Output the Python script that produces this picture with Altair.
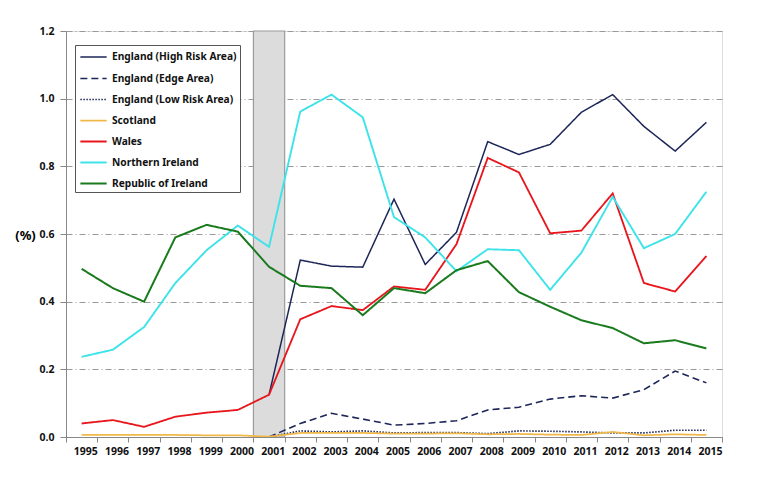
import altair as alt
import pandas as pd

years = [str(y) for y in range(1995, 2016)]

series_names = [
    "England (High Risk Area)",
    "England (Edge Area)",
    "England (Low Risk Area)",
    "Scotland",
    "Wales",
    "Northern Ireland",
    "Republic of Ireland",
]

N = None
england_high = [N, N, N, N, N, N, 0.125, 0.523, 0.505, 0.502, 0.703, 0.510, 0.605, 0.873, 0.835, 0.865, 0.960, 1.012, 0.918, 0.845, 0.930]
england_edge = [N, N, N, N, N, N, 0.0, 0.040, 0.070, 0.053, 0.035, 0.040, 0.048, 0.080, 0.088, 0.112, 0.122, 0.115, 0.140, 0.195, 0.160]
england_low = [N, N, N, N, N, N, 0.0, 0.018, 0.015, 0.018, 0.012, 0.013, 0.013, 0.010, 0.018, 0.017, 0.015, 0.012, 0.012, 0.020, 0.020]
scotland = [0.006, 0.006, 0.006, 0.006, 0.005, 0.005, 0.001, 0.012, 0.012, 0.012, 0.010, 0.010, 0.011, 0.008, 0.009, 0.007, 0.006, 0.015, 0.005, 0.008, 0.006]
wales = [0.040, 0.050, 0.030, 0.060, 0.072, 0.080, 0.125, 0.348, 0.387, 0.375, 0.445, 0.435, 0.570, 0.825, 0.782, 0.602, 0.610, 0.720, 0.455, 0.430, 0.535]
northern_ireland = [0.237, 0.258, 0.325, 0.455, 0.552, 0.625, 0.562, 0.962, 1.012, 0.945, 0.650, 0.590, 0.490, 0.555, 0.552, 0.435, 0.545, 0.710, 0.558, 0.600, 0.725]
republic_ireland = [0.497, 0.440, 0.400, 0.590, 0.627, 0.607, 0.503, 0.447, 0.440, 0.360, 0.440, 0.425, 0.493, 0.520, 0.428, 0.385, 0.345, 0.322, 0.277, 0.286, 0.262]

shade_years = ["2001"]
y_ticks = [0.0, 0.2, 0.4, 0.6, 0.8, 1.0, 1.2]

colors = ["#1c2657", "#1c2657", "#1c2657", "#f0b848", "#e8161c", "#3ee3ea", "#1a7a1e"]
dashes = [[1, 0], [7, 4], [1.5, 1.5], [1, 0], [1, 0], [1, 0], [1, 0]]
widths = [1.5, 2, 1.5, 2.8, 2.5, 2.5, 2.5]

all_series = [england_high, england_edge, england_low, scotland, wales, northern_ireland, republic_ireland]
rows = []
for name, vals in zip(series_names, all_series):
    for yr, v in zip(years, vals):
        if v is not None:
            rows.append({"year": yr, "value": v, "series": name})
df = pd.DataFrame(rows)

shade_df = pd.DataFrame({"year": shade_years, "y0": [y_ticks[0]], "y1": [y_ticks[-1]]})

FONT = "Noto Sans"
W, H = 656, 406
band = W / len(years)

x_scale = alt.Scale(domain=years, paddingInner=0, paddingOuter=0)

x_enc = alt.X(
    "year:O",
    scale=x_scale,
    axis=alt.Axis(
        title=None, labelAngle=0, tickBand="extent", labelOffset=band / 2,
        labelFont=FONT, labelFontSize=10.5,
        labelFontWeight="bold", labelColor="#111", domainColor="#888", tickColor="#888",
        tickSize=5, labelPadding=9, grid=False,
    ),
)

shade = alt.Chart(shade_df).mark_rect(fill="#dcdcdc", stroke="#9a9a9a", strokeWidth=1.2).encode(
    x=alt.X("year:O", scale=x_scale),
    y=alt.Y("y0:Q"),
    y2="y1:Q",
)

width_expr = "{" + ", ".join(f"'{n}': {w}" for n, w in zip(series_names, widths)) + "}[datum.value]"

legend = alt.Legend(
    title=None, orient="none", legendX=9, legendY=14,
    labelFont=FONT, labelFontSize=10.2, labelFontWeight="bold", labelColor="#111",
    symbolType="M-1.6,0H1.6", symbolSize=270, strokeColor="#555", fillColor="white",
    symbolStrokeWidth=alt.ExprRef(width_expr),
    padding=3, rowPadding=6, symbolOffset=6, labelOffset=9,
)

lines = alt.Chart(df).mark_line().encode(
    x=x_enc,
    y=alt.Y(
        "value:Q",
        scale=alt.Scale(domain=[0, 1.2], nice=False),
        axis=alt.Axis(
            title="(%)", titleAngle=0, titleX=-41, titleY=204, titleAlign="center",
            titleBaseline="middle", titleFont=FONT, titleFontSize=13, titleFontWeight="bold",
            values=y_ticks, format=".1f", labelFont=FONT, labelFontSize=10.5,
            labelFontWeight="bold", labelColor="#111", domainColor="#888", tickColor="#888",
            tickSize=6, labelPadding=6, grid=True, gridColor="#999", gridDash=[6, 3, 1, 3],
            gridWidth=1,
        ),
    ),
    color=alt.Color("series:N", scale=alt.Scale(domain=series_names, range=colors), legend=legend),
    strokeDash=alt.StrokeDash("series:N", scale=alt.Scale(domain=series_names, range=dashes), legend=legend),
    strokeWidth=alt.StrokeWidth("series:N", scale=alt.Scale(domain=series_names, range=widths), legend=legend),
    order=alt.Order("year:O"),
)

chart = alt.layer(shade, lines).properties(
    width=W, height=H,
    autosize=alt.AutoSizeParams(type="none"),
    padding={"left": 58, "top": 23, "right": 30, "bottom": 45},
).configure_view(stroke=None).configure(background="white")

chart.save("out.html", embed_options={"renderer": "svg", "actions": False})
